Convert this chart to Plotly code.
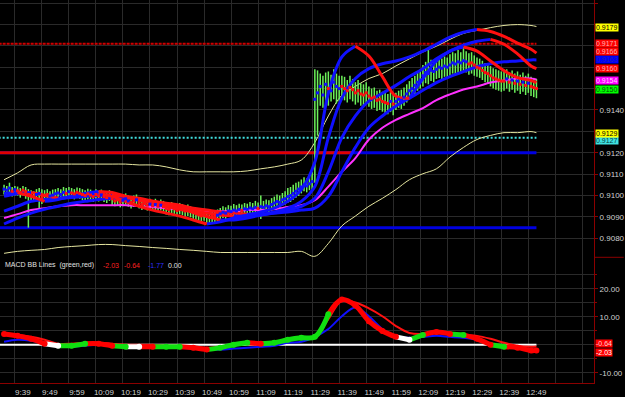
import plotly.graph_objects as go

# ---------------- data ----------------
FIRST_BAR_MIN = 35  # minutes after 09:00 of first 1-minute bar (09:35)

bar_close = [
    .91030, .91025, .91035, .91020, .91028, .91022, .91015, .91025, .91018, .91005,
    .91000, .90995, .91005, .91010, .90990, .91000, .91005, .90998, .91002, .91008,
    .91012, .91005, .91015, .91010, .91018, .91012, .91008, .91015, .91010, .91005,
    .91000, .91008, .91002, .90995, .91005, .90998, .91003, .90995, .90990, .91000,
    .90985, .90975, .90980, .90970, .90978, .90985, .90975, .90968, .90975, .90980,
    .90965, .90958, .90962, .90955, .90960, .90952, .90958, .90950, .90955, .90948,
    .90940, .90935, .90945, .90938, .90930, .90940, .90935, .90928, .90932, .90925,
    .90920, .90915, .90910, .90905, .90912, .90902, .90898, .90905, .90900, .90908,
    .90915, .90922, .90918, .90928, .90925, .90932, .90928, .90935, .90930, .90938,
    .90935, .90942, .90938, .90945, .90940, .90948, .90945, .90952, .90948, .90958,
    .90965, .90972, .90968, .90980, .90985, .90995, .91000, .91010, .91020, .91030,
    .91040, .91050, .91045, .91055, .91065,
    .91450, .91480, .91510, .91470, .91520, .91500, .91490, .91530, .91510, .91500,
    .91510, .91500, .91490, .91505, .91495, .91480, .91490, .91475, .91470, .91480,
    .91465, .91455, .91460, .91445, .91450, .91440, .91435, .91430, .91440, .91428,
    .91440, .91450, .91445, .91460, .91475, .91490, .91500, .91515, .91530, .91540,
    .91560, .91575, .91570, .91585, .91580, .91590, .91600, .91595, .91605, .91600,
    .91610, .91620, .91615, .91625, .91620, .91630, .91625, .91615, .91620, .91610,
    .91600, .91595, .91585, .91575, .91570, .91560, .91550, .91545, .91540, .91535,
    .91535, .91545, .91530, .91540, .91525, .91535, .91520, .91530, .91515, .91525,
    .91510, .91505, .91500]

bar_high = [
    .91050, .91045, .91060, .91040, .91045, .91042, .91035, .91045, .91040, .91030,
    .91025, .91020, .91030, .91035, .91030, .91025, .91030, .91020, .91028, .91030,
    .91035, .91030, .91040, .91035, .91040, .91035, .91030, .91038, .91035, .91030,
    .91025, .91032, .91028, .91020, .91030, .91022, .91028, .91020, .91015, .91025,
    .91010, .91000, .91005, .90995, .91005, .91010, .91000, .90992, .91000, .91005,
    .90990, .90985, .90988, .90980, .90985, .90978, .90985, .90975, .90982, .90975,
    .90965, .90960, .90970, .90962, .90955, .90965, .90960, .90952, .90958, .90950,
    .90945, .90940, .90935, .90930, .90938, .90928, .90925, .90932, .90928, .90935,
    .90942, .90950, .90945, .90955, .90952, .90960, .90955, .90962, .90958, .90965,
    .90962, .90970, .90965, .90975, .90968, .91000, .90975, .90982, .90978, .90988,
    .90995, .91005, .91000, .91012, .91020, .91035, .91040, .91050, .91060, .91065,
    .91075, .91085, .91080, .91090, .91110,
    .91590, .91585, .91570, .91560, .91575, .91580, .91565, .91590, .91570, .91560,
    .91560, .91555, .91540, .91560, .91545, .91530, .91540, .91525, .91520, .91530,
    .91510, .91500, .91505, .91490, .91495, .91485, .91480, .91475, .91485, .91470,
    .91480, .91490, .91495, .91505, .91520, .91535, .91550, .91560, .91575, .91590,
    .91610, .91625, .91680, .91635, .91630, .91640, .91645, .91640, .91650, .91645,
    .91660, .91670, .91665, .91680, .91670, .91695, .91675, .91665, .91670, .91655,
    .91645, .91640, .91630, .91620, .91615, .91605, .91595, .91590, .91585, .91580,
    .91585, .91590, .91575, .91585, .91570, .91580, .91565, .91575, .91560, .91570,
    .91555, .91550, .91545]

bar_low = [
    .91005, .91000, .91010, .90995, .91000, .91000, .90990, .91000, .90985, .90850,
    .90975, .90970, .90980, .90940, .90960, .90975, .90980, .90975, .90980, .90985,
    .90985, .90980, .90990, .90985, .90990, .90988, .90982, .90990, .90985, .90978,
    .90975, .90982, .90978, .90970, .90980, .90972, .90978, .90970, .90965, .90975,
    .90955, .90950, .90952, .90945, .90950, .90958, .90948, .90940, .90948, .90952,
    .90940, .90932, .90938, .90930, .90935, .90928, .90932, .90925, .90930, .90922,
    .90912, .90908, .90918, .90910, .90902, .90912, .90908, .90900, .90905, .90898,
    .90890, .90885, .90880, .90872, .90882, .90870, .90868, .90875, .90872, .90880,
    .90888, .90895, .90890, .90900, .90898, .90905, .90900, .90908, .90902, .90910,
    .90908, .90915, .90910, .90918, .90912, .90890, .90918, .90925, .90920, .90930,
    .90940, .90945, .90942, .90952, .90958, .90965, .90970, .90980, .90990, .90998,
    .91010, .91020, .91015, .91025, .91030,
    .91060, .91280, .91420, .91410, .91430, .91420, .91440, .91450, .91430, .91440,
    .91450, .91445, .91435, .91450, .91440, .91425, .91435, .91420, .91415, .91425,
    .91415, .91405, .91410, .91395, .91400, .91392, .91385, .91380, .91390, .91375,
    .91400, .91410, .91405, .91420, .91435, .91450, .91460, .91475, .91490, .91500,
    .91510, .91525, .91520, .91535, .91530, .91545, .91550, .91545, .91555, .91550,
    .91560, .91570, .91565, .91575, .91570, .91580, .91575, .91565, .91570, .91560,
    .91555, .91550, .91540, .91530, .91522, .91510, .91500, .91495, .91490, .91485,
    .91490, .91500, .91485, .91495, .91480, .91490, .91475, .91485, .91470, .91480,
    .91465, .91460, .91455]

# indicator sample times (minutes after 09:00)
line_min = [35, 40, 45, 50, 55, 60, 65, 70, 75, 80, 85, 90, 95, 100, 105, 110, 115, 120,
            125, 130, 135, 140, 145, 150, 155, 160, 165, 170, 175, 180, 185, 190, 195,
            200, 205, 210, 215, 220, 225, 230, 232]

ma_fast = [.91010, .91014, .90996, .90973, .90982, .90996, .91005, .91010, .90996, .90973,
           .90950, .90932, .90918, .90904, .90886, .90867, .90877, .90895, .90909, .90923,
           .90941, .90973, .91028, .91157, .91478, .91648, .91698, .91652, .91556, .91464,
           .91455, .91547, .91629, .91675, .91694, .91675, .91629, .91584, .91551, .91538,
           .91528]
ma_med = [.90996, .91010, .91014, .91001, .90987, .90996, .91010, .91019, .91014, .90996,
          .90978, .90964, .90950, .90936, .90923, .90904, .90886, .90886, .90895, .90909,
          .90923, .90941, .90973, .91042, .91271, .91455, .91547, .91593, .91616, .91629,
          .91648, .91675, .91707, .91740, .91763, .91776, .91767, .91744, .91712, .91684,
          .91666]
ma_slow = [.90927, .90950, .90973, .90982, .90987, .90991, .90996, .91001, .91001, .90996,
           .90987, .90973, .90959, .90946, .90932, .90918, .90909, .90904, .90904, .90909,
           .90918, .90932, .90950, .90987, .91111, .91271, .91372, .91441, .91478, .91515,
           .91556, .91593, .91639, .91675, .91703, .91721, .91730, .91707, .91662, .91606,
           .91593]
ma_slowest = [.90867, .90895, .90918, .90936, .90950, .90964, .90973, .90982, .90987, .90987,
              .90982, .90973, .90964, .90955, .90941, .90932, .90923, .90918, .90913, .90913,
              .90918, .90923, .90932, .90941, .90996, .91111, .91225, .91317, .91372, .91418,
              .91455, .91492, .91528, .91556, .91579, .91602, .91616, .91625, .91629, .91634,
              .91634]
ma_magenta = [.90895, .90913, .90932, .90941, .90950, .90955, .90955, .90955, .90955, .90955,
              .90950, .90946, .90941, .90936, .90932, .90927, .90927, .90927, .90932, .90932,
              .90936, .90946, .90955, .90978, .91042, .91111, .91175, .91262, .91317, .91354,
              .91382, .91409, .91446, .91473, .91496, .91510, .91528, .91538, .91547, .91547,
              .91542]
bb_upper = [.91074, .91106, .91143, .91147, .91147, .91147, .91147, .91147, .91147, .91147,
            .91143, .91143, .91134, .91120, .91111, .91111, .91111, .91111, .91115, .91125,
            .91134, .91147, .91166, .91248, .91372, .91469, .91510, .91547, .91570, .91606,
            .91639, .91671, .91698, .91730, .91758, .91772, .91785, .91795, .91799, .91795,
            .91790]
bb_lower = [.90730, .90739, .90744, .90748, .90757, .90762, .90766, .90771, .90771, .90766,
            .90762, .90757, .90753, .90748, .90744, .90739, .90734, .90734, .90734, .90734,
            .90734, .90734, .90739, .90716, .90776, .90858, .90904, .90950, .90987, .91028,
            .91074, .91102, .91125, .91180, .91225, .91262, .91281, .91294, .91294, .91299,
            .91294]

# horizontal levels
level_red_dotted = 0.9171
level_red = 0.9120
level_red_end_min = 164
level_blue_hi = 0.9120
level_blue_lo = 0.9085
level_cyan = 0.9127

# MACD BB lines
macd = [3.86, 3.16, 2.11, 0.35, -0.35, -0.35, 0.35, 0.35, -0.35, -0.70,
        -0.70, -0.70, -0.70, -0.70, -1.05, -1.75, -1.05, 0.00, 0.70, 0.35,
        0.70, 1.75, 2.46, 2.81, 10.88, 16.14, 14.04, 8.42, 4.91, 2.81,
        1.75, 3.51, 4.56, 3.86, 3.51, 2.11, 0.00, -0.70, -1.05, -2.11,
        -2.03]
macd_state = "rrrrwggrrgwrggrrgggrgggggrrrrrwgrrgrrgrrr"
macd_signal = [1.05, 1.75, 1.40, 0.35, -0.35, -0.70, -0.35, 0.00, -0.35, -0.70,
               -1.05, -1.05, -1.05, -1.05, -1.40, -1.75, -1.75, -1.40, -1.05, -0.70,
               -0.35, 0.70, 1.05, 2.81, 5.61, 10.18, 13.33, 10.18, 5.61, 2.81,
               2.46, 2.81, 3.16, 2.81, 2.46, 1.75, 0.35, -0.70, -1.40, -1.75,
               -1.77]
macd_band = [3.86, 3.51, 2.81, 1.75, 0.35, 0.35, 0.70, 0.70, 0.35, 0.00,
             0.00, 0.00, -0.35, -0.35, -0.70, -1.05, -0.70, 0.00, 0.35, 0.70,
             1.05, 1.75, 2.46, 2.81, 9.12, 15.79, 15.09, 12.98, 10.18, 6.67,
             4.21, 3.86, 4.56, 4.21, 3.51, 3.16, 2.11, 0.70, -0.35, -0.70,
             -0.64]

time_tick_min = [39, 49, 59, 69, 79, 89, 99, 109, 119, 129, 139, 149, 159, 169, 179,
                 189, 199, 209, 219, 229, 239, 249]
time_tick_text = ["9:39", "9:49", "9:59", "10:09", "10:19", "10:29", "10:39", "10:49",
                  "10:59", "11:09", "11:19", "11:29", "11:39", "11:49", "11:59", "12:09",
                  "12:19", "12:29", "12:39", "12:49", "", ""]

# price grid levels; labels that sit under the value boxes are left blank
price_tick_vals = [0.908, 0.909, 0.910, 0.911, 0.912, 0.913, 0.914, 0.915, 0.916,
                   0.917, 0.918, 0.919]
price_tick_text = ["0.9080", "0.9090", "0.9100", "0.9110", "0.9120", "", "0.9140", "",
                   "", "", "", "0.9190"]
macd_tick_vals = [-10, 0, 10, 20]
macd_tick_text = ["-10.00", "", "10.00", "20.00"]

# right-side value boxes: (unrounded value, shown text, background, text colour)
price_boxes = [
    (0.91258, "0.9127", "#40e0e0", "#004040"),
    (0.91290, "0.9129", "#ffff00", "#000000"),
    (0.91496, "0.9150", "#00ff00", "#005000"),
    (0.91538, "0.9154", "#ff00ff", "#ffd0ff"),
    (0.91593, "0.9160", "#ff0000", "#ffb0b0"),
    (0.91634, "0.9163", "#0000ff", "#2020b0"),
    (0.91671, "0.9166", "#ff0000", "#ffb0b0"),
    (0.91712, "0.9171", "#ff0000", "#ffb0b0"),
    (0.91785, "0.9179", "#ffff00", "#000000"),
]
# (value, text, background, text colour, vertical nudge in px to keep boxes stacked)
macd_boxes = [
    (-0.64, "-0.64", "#ff0000", "#ffd0d0", 3),
    (-2.03, "-2.03", "#ff0000", "#ffffff", -2),
]

# ---------------- styling ----------------
BLUE = "#1010ff"
RED = "#ff1010"
GRID = "#2a2a2a"
AXIS_RED = "#8b0000"
FONT = "Liberation Sans, Arial, sans-serif"

bar_min = [FIRST_BAR_MIN + i for i in range(len(bar_close))]
t_end = bar_min[-1]

fig = go.Figure()


def runs(xs, ys, seg_colors):
    out = {}
    i, n = 0, len(xs)
    while i < n - 1:
        c = seg_colors[i]
        j = i
        while j < n - 1 and seg_colors[j] == c:
            j += 1
        X, Y = out.setdefault(c, ([], []))
        X.extend(xs[i:j + 1]); X.append(None)
        Y.extend(ys[i:j + 1]); Y.append(None)
        i = j
    return out


def add_slope_line(ys, width):
    cols = [BLUE if ys[k + 1] >= ys[k] else RED for k in range(len(ys) - 1)]
    for c, (X, Y) in runs(line_min, ys, cols).items():
        fig.add_trace(go.Scatter(x=X, y=Y, mode="lines", xaxis="x2", yaxis="y",
                                 line=dict(color=c, width=width, shape="spline"),
                                 hoverinfo="skip"))


def hline(level, t0, t1, color, width, dash="solid", xa="x2", ya="y"):
    fig.add_trace(go.Scatter(x=[t0, t1], y=[level, level], mode="lines", xaxis=xa, yaxis=ya,
                             line=dict(color=color, width=width, dash=dash), hoverinfo="skip"))


# horizontal levels
hline(level_blue_hi, FIRST_BAR_MIN - 2, t_end, "#0000e0", 3)
hline(level_red, FIRST_BAR_MIN - 2, level_red_end_min, "#e00000", 3)
hline(level_blue_lo, FIRST_BAR_MIN - 2, t_end, "#0000e0", 3)
hline(level_cyan, FIRST_BAR_MIN - 2, t_end, "#40e0e0", 2, "2px,2px")
hline(level_red_dotted, FIRST_BAR_MIN - 2, t_end, "#d00000", 2, "3px,1px")

# bollinger bands
for band in (bb_upper, bb_lower):
    fig.add_trace(go.Scatter(x=line_min, y=band, mode="lines", xaxis="x2", yaxis="y",
                             line=dict(color="#e6e6a0", width=1, shape="spline"),
                             hoverinfo="skip"))

# price bars
bx, by = [], []
for t, lo, hi in zip(bar_min, bar_low, bar_high):
    bx += [t, t, None]
    by += [lo, hi, None]
fig.add_trace(go.Scatter(x=bx, y=by, mode="lines", xaxis="x2", yaxis="y",
                         line=dict(color="#6cf05a", width=1.5), hoverinfo="skip"))

# magenta average
fig.add_trace(go.Scatter(x=line_min, y=ma_magenta, mode="lines", xaxis="x2", yaxis="y",
                         line=dict(color="#ff30ff", width=2, shape="spline"), hoverinfo="skip"))

# direction-coloured averages
add_slope_line(ma_slowest, 3)
add_slope_line(ma_slow, 3)
add_slope_line(ma_med, 3)
add_slope_line(ma_fast, 3)

# close ticks
dot_cols = [BLUE if i < 3 or bar_close[i] >= bar_close[i - 3] else RED
            for i in range(len(bar_close))]
fig.add_trace(go.Scatter(x=bar_min, y=bar_close, mode="markers", xaxis="x2", yaxis="y",
                         marker=dict(symbol="square", size=3, color=dot_cols, line=dict(width=0)),
                         hoverinfo="skip"))

# ---- MACD panel ----
hline(0, FIRST_BAR_MIN - 2, t_end, "#ffffff", 2, xa="x", ya="y2")
fig.add_trace(go.Scatter(x=line_min, y=macd_signal, mode="lines", xaxis="x", yaxis="y2",
                         line=dict(color="#1010ff", width=2, shape="spline"), hoverinfo="skip"))
fig.add_trace(go.Scatter(x=line_min, y=macd_band, mode="lines", xaxis="x", yaxis="y2",
                         line=dict(color="#ff1010", width=2, shape="spline"), hoverinfo="skip"))
state_col = {"r": "#ff0000", "g": "#10e010", "w": "#ffffff"}
seg_cols = [state_col[macd_state[k + 1]] for k in range(len(macd) - 1)]
for c, (X, Y) in runs(line_min, macd, seg_cols).items():
    fig.add_trace(go.Scatter(x=X, y=Y, mode="lines", xaxis="x", yaxis="y2",
                             line=dict(color=c, width=5, shape="spline"), hoverinfo="skip"))
fig.add_trace(go.Scatter(x=line_min, y=macd, mode="markers", xaxis="x", yaxis="y2",
                         marker=dict(size=6, color=[state_col[s] for s in macd_state],
                                     line=dict(width=0)),
                         hoverinfo="skip"))

# ---------------- layout ----------------
SPLIT = 128 / 390
axis_font = dict(family=FONT, size=8, color="#d0d0d0")
fig.update_layout(
    width=625, height=397,
    margin=dict(l=0, r=25, t=0, b=7),
    paper_bgcolor="black", plot_bgcolor="black",
    showlegend=False,
    font=dict(family=FONT, size=8, color="#d0d0d0"),
    xaxis=dict(domain=[0, 1], anchor="y2", range=[33.5, 253.3],
               tickvals=time_tick_min, ticktext=time_tick_text,
               showgrid=True, gridcolor=GRID, gridwidth=1, zeroline=False,
               showline=True, linecolor=AXIS_RED, linewidth=1, ticks="",
               tickfont=axis_font, ticklabelshift=8, ticklabelstandoff=1),
    xaxis2=dict(domain=[0, 1], anchor="y", matches="x", showticklabels=False,
                tickvals=time_tick_min, showgrid=True, gridcolor=GRID, gridwidth=1,
                zeroline=False, showline=False, ticks=""),
    yaxis=dict(domain=[SPLIT, 1], anchor="x2", side="right", range=[0.907114, 0.91914],
               tickvals=price_tick_vals, ticktext=price_tick_text, showgrid=True,
               gridcolor=GRID, zeroline=False, showline=True, linecolor=AXIS_RED,
               linewidth=1, ticks="outside", ticklen=3, tickcolor=AXIS_RED,
               tickfont=axis_font),
    yaxis2=dict(domain=[0, SPLIT], anchor="x", side="right", range=[-13.68, 31.23],
                tickvals=macd_tick_vals, ticktext=macd_tick_text, showgrid=True,
                gridcolor=GRID,
                minor=dict(tickvals=[-5, 5, 15, 25], showgrid=True, gridcolor=GRID,
                           ticks="outside", ticklen=2, tickcolor=AXIS_RED),
                zeroline=False, showline=True, linecolor=AXIS_RED, linewidth=1,
                ticks="outside", ticklen=3, tickcolor=AXIS_RED, tickfont=axis_font),
)

fig.add_shape(type="line", xref="paper", yref="paper", x0=1, x1=1.05, y0=SPLIT, y1=SPLIT,
              line=dict(color=AXIS_RED, width=1))

annotations = []
for v, txt, bg, fg in price_boxes:
    annotations.append(dict(xref="paper", x=1, xanchor="left", xshift=1, yref="y", y=v,
                            yanchor="middle", text=txt, showarrow=False, bgcolor=bg,
                            borderpad=0, font=dict(family=FONT, size=7, color=fg)))
for v, txt, bg, fg, nudge in macd_boxes:
    annotations.append(dict(xref="paper", x=1, xanchor="left", xshift=1, yref="y2", y=v,
                            yanchor="middle", yshift=nudge, text=txt, showarrow=False,
                            bgcolor=bg, borderpad=0, font=dict(family=FONT, size=7, color=fg)))

label_y = (390 - 270) / 390
label_parts = [("MACD BB Lines  (green,red)", 3, "#e0e0e0"), ("-2.03", 102, "#ff2020"),
               ("-0.64", 123, "#ff2020"), ("-1.77", 147, "#3030ff"), ("0.00", 168, "#e0e0e0")]
for txt, px, col in label_parts:
    annotations.append(dict(xref="paper", x=px / 600, xanchor="left", yref="paper", y=label_y,
                            yanchor="middle", text=txt, showarrow=False,
                            font=dict(family=FONT, size=7, color=col)))
fig.update_layout(annotations=annotations)

fig.write_html("out.html")
